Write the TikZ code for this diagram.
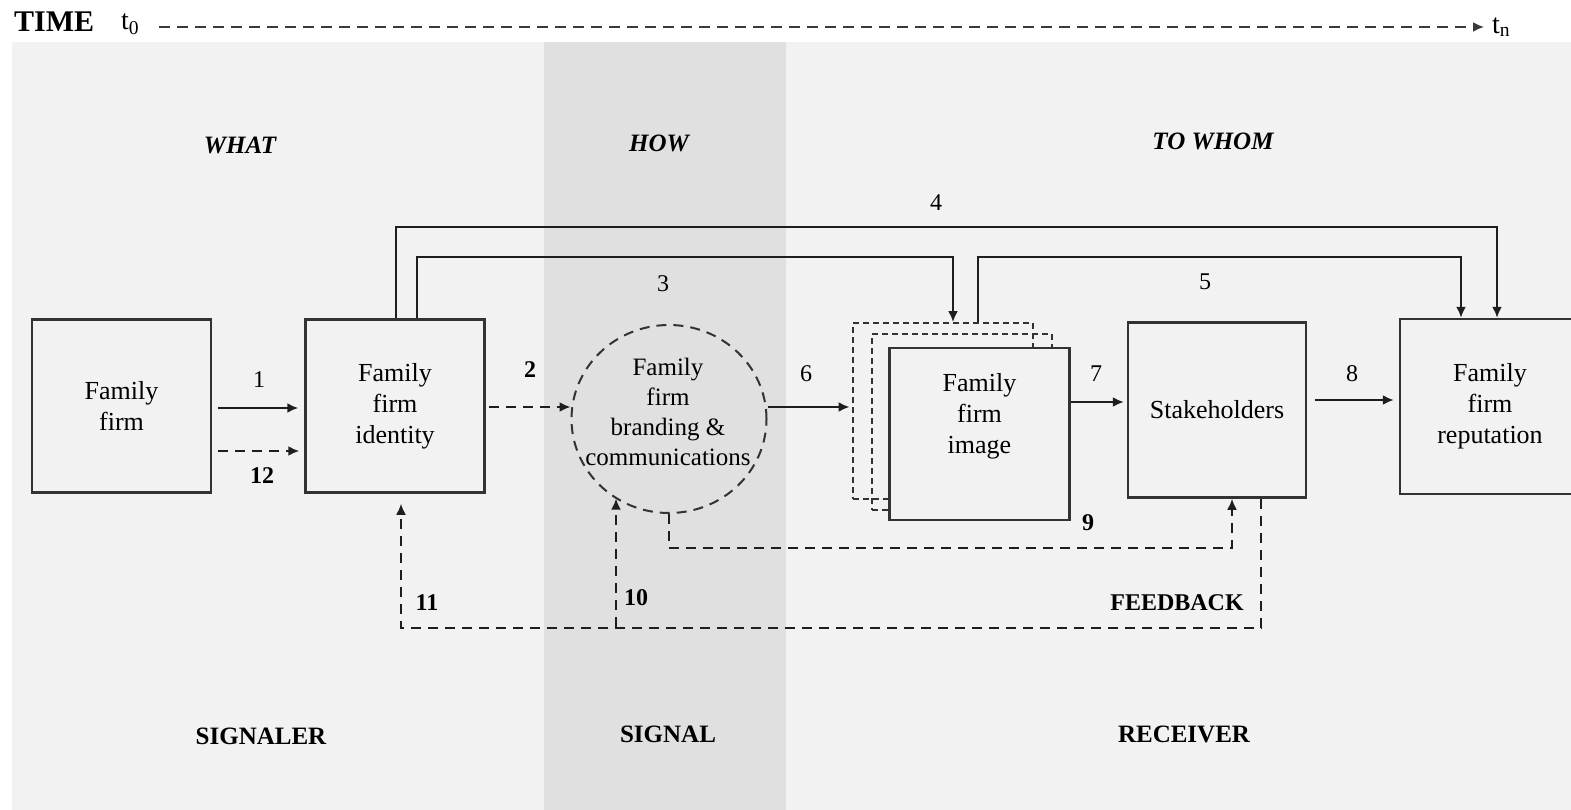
\documentclass[tikz,border=0pt]{standalone}
\usepackage{fontspec}
\setmainfont{Liberation Serif}
\usetikzlibrary{arrows.meta,shapes.geometric,calc}

\definecolor{paper}{HTML}{F2F2F2}
\definecolor{band}{HTML}{E0E0E0}
\definecolor{ink}{HTML}{333333}
\definecolor{wire}{HTML}{1E1E1E}
\definecolor{timeink}{HTML}{3A3A3A}

\begin{document}
\begin{tikzpicture}[x=1pt,y=-1pt,
  box/.style={draw=ink, line width=2.5pt, minimum width=179pt, minimum height=173pt,
    align=center, inner sep=0pt, font=\fontsize{26}{31}\selectfont},
  ghost/.style={draw=ink, line width=2pt, dash pattern=on 6pt off 4pt,
    minimum width=180pt, minimum height=176pt, inner sep=0pt},
  tip/.style={-{Latex[length=11pt,width=10pt]}},
  flow/.style={draw=wire, line width=2pt, tip},
  fback/.style={flow, dash pattern=on 10pt off 7pt},
  num/.style={font=\fontsize{24}{24}\selectfont, inner sep=0pt},
  bnum/.style={font=\fontsize{24}{24}\selectfont\bfseries, inner sep=0pt},
  head/.style={font=\fontsize{25}{25}\selectfont\bfseries\itshape, inner sep=0pt},
  role/.style={font=\fontsize{25}{25}\selectfont\bfseries, inner sep=0pt}
]
% canvas and clipping
\path[use as bounding box] (0,0) rectangle (1571,810);
\clip (0,0) rectangle (1571,810);
\fill[white] (0,0) rectangle (1571,810);
\fill[paper] (12,42) rectangle (1571,810);
\fill[band] (544,42) rectangle (786,810);

% time axis
\node[font=\fontsize{30}{30}\selectfont\bfseries, inner sep=0pt, anchor=west] (time) at (14,22) {TIME};
\node[font=\fontsize{28}{28}\selectfont, inner sep=0pt, anchor=west] (tz) at (121,24) {t\textsubscript{0}};
\node[font=\fontsize{28}{28}\selectfont, inner sep=0pt, anchor=west] (tn) at (1492,27) {t\textsubscript{n}};
\draw[draw=timeink, line width=2pt, dash pattern=on 11pt off 7pt,
  -{Latex[length=11pt,width=10pt]}] ($(tz.east)+(20,3)$) -- ($(tn.west)+(-8,0)$);

% column headings
\node[head] (what) at (240,145) {WHAT};
\node[head] (how) at (659,143) {HOW};
\node[head] (towhom) at (1213,141) {TO WHOM};
\node[role] (signaler) at (261,736) {SIGNALER};
\node[role] (signal) at (668,734) {SIGNAL};
\node[role] (receiver) at (1184,734) {RECEIVER};

% main blocks
\node[box] (ff) at (121.5,406) {Family\\firm};
\node[box] (id) at (395,406) {Family\\firm\\identity};
\node[ellipse, draw=ink, line width=2pt, dash pattern=on 10pt off 7pt,
  minimum width=195pt, minimum height=188pt, inner sep=0pt] (bc) at (669,419) {};
\node[align=center, inner sep=0pt, font=\fontsize{25}{30}\selectfont] (bct) at (668,412)
  {Family\\firm\\branding \&\\communications};
\node[ghost] (img3) at (942.5,411) {};
\node[ghost] (img2) at (961.5,422) {};
\node[box, fill=paper, minimum width=180pt, minimum height=172pt] (img) at (979.5,434)
  {Family\\firm\\image\\[10pt]};
\node[box, minimum width=178pt, minimum height=175pt] (stk) at (1217,410) {Stakeholders};
\node[box, minimum width=180pt, minimum height=175pt] (rep) at (1490,406.5) {Family\\firm\\reputation};

% forward flows
\draw[flow, shorten <=6pt, shorten >=6pt] ($(ff.east)+(0,2)$) -- ($(id.west)+(0,2)$);
\draw[fback, shorten <=6pt, shorten >=5pt] ($(ff.east)+(0,45)$) -- ($(id.west)+(0,45)$);
\draw[fback, shorten <=3pt] ($(id.east)+(0,1)$) -- ($(bc.west |- id.east)+(0,1)$);
\draw[flow] ($(bc.east |- id.east)+(0,1)$) -- ($(img3.west |- id.east)+(-2,1)$);
\draw[flow, shorten >=3pt] ($(img.east |- stk.west)+(0,-8)$) -- ($(stk.west)+(0,-8)$);
\draw[flow, shorten <=8pt, shorten >=5pt] ($(stk.east)+(0,-10)$) -- ($(rep.west)+(0,-6.5)$);

% bridging flows above the blocks
\draw[flow] ($(id.north)+(22,0)$) |- ($(img3.north)+(10.5,-65)$) -- ($(img3.north)+(10.5,0)$);
\draw[flow] ($(id.north)+(1,0)$) |- ($(rep.north)+(7,-91)$) -- ($(rep.north)+(7,0)$);
\draw[flow] ($(img3.north)+(35.5,0)$) |- ($(rep.north)+(-29,-61)$) -- ($(rep.north)+(-29,0)$);

% feedback loops
\draw[fback] (bc.south) |- ($(stk.south)+(15,49)$) -- ($(stk.south)+(15,0)$);
\draw[fback, shorten >=10pt] ($(stk.south)+(44,0)$) |- ($(id.south)+(6,134)$) -- ($(id.south)+(6,0)$);
\coordinate (tap) at (616,626.5);
\draw[fback] (tap) -- (tap |- bc.236);

% path numbers
\node[num] (n1) at (259,380) {1};
\node[bnum] (n2) at (530,370) {2};
\node[num] (n3) at (663,284) {3};
\node[num] (n4) at (936,203) {4};
\node[num] (n5) at (1205,282) {5};
\node[num] (n6) at (806,374) {6};
\node[num] (n7) at (1096,374) {7};
\node[num] (n8) at (1352,374) {8};
\node[bnum] (n9) at (1088,523) {9};
\node[bnum] (n10) at (636,598) {10};
\node[bnum] (n11) at (427,603) {11};
\node[bnum] (n12) at (262,476) {12};
\node[bnum] (fbk) at (1177,603) {FEEDBACK};
\end{tikzpicture}
\end{document}
